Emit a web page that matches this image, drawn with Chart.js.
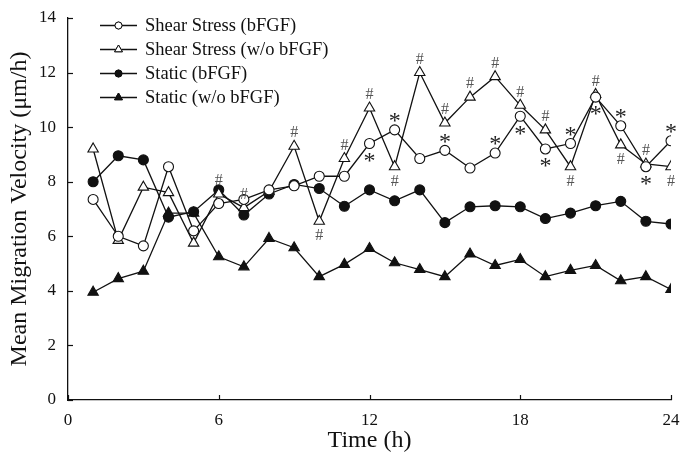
<!DOCTYPE html>
<html>
<head>
<meta charset="utf-8">
<script src="https://cdn.jsdelivr.net/npm/chart.js@4.4.1/dist/chart.umd.min.js"></script>
<style>
  html, body { margin: 0; padding: 0; background: #fff; }
  #wrap { width: 680px; height: 455px; }
</style>
</head>
<body>
<div id="wrap"><canvas id="velChart"></canvas></div>
<script>
//-- data --
const hours = [1, 2, 3, 4, 5, 6, 7, 8, 9, 10, 11, 12, 13, 14, 15, 16, 17, 18, 19, 20, 21, 22, 23, 24];
const shearBFGF = [7.35, 6.0, 5.65, 8.55, 6.2, 7.2, 7.35, 7.7, 7.85, 8.2, 8.2, 9.4, 9.9, 8.85, 9.15, 8.5, 9.05, 10.4, 9.2, 9.4, 11.1, 10.05, 8.55, 9.5];
const shearNoBFGF = [9.2, 5.85, 7.8, 7.6, 5.75, 7.55, 7.05, 7.65, 9.3, 6.55, 8.85, 10.7, 8.55, 12.0, 10.15, 11.1, 11.85, 10.8, 9.9, 8.55, 11.2, 9.35, 8.65, 8.55];
const staticBFGF = [8.0, 8.95, 8.8, 6.7, 6.9, 7.7, 6.78, 7.55, 7.9, 7.75, 7.1, 7.7, 7.3, 7.7, 6.5, 7.08, 7.12, 7.08, 6.65, 6.85, 7.12, 7.28, 6.55, 6.45];
const staticNoBFGF = [3.95, 4.45, 4.72, 6.85, 6.85, 5.25, 4.88, 5.92, 5.58, 4.52, 4.97, 5.55, 5.03, 4.78, 4.52, 5.35, 4.93, 5.15, 4.52, 4.75, 4.93, 4.37, 4.52, 4.05];
const seriesLabels = ["Shear Stress (bFGF)", "Shear Stress (w/o bFGF)", "Static (bFGF)", "Static (w/o bFGF)"];
const xTicks = [0, 6, 12, 18, 24];
const yTicks = [0, 2, 4, 6, 8, 10, 12, 14];

//-- significance marks: hour + side (1 = above, -1 = below) --
const hashHours = [6, 7, 9, 10, 11, 12, 13, 14, 15, 16, 17, 18, 19, 20, 21, 22, 23, 24];
const hashSide  = [1, 1, 1, -1, 1, 1, -1, 1, 1, 1, 1, 1, 1, -1, 1, -1, 1, -1];
const starHours = [12, 13, 15, 17, 18, 19, 20, 21, 22, 23, 24];
const starSide  = [-1, 1, 1, 1, -1, -1, 1, -1, 1, -1, 1];

const FONT = "'Liberation Serif', 'Times New Roman', serif";

function toXY(arr) {
    return arr.map((v, i) => ({ x: hours[i], y: v }));
}

function makeSet(label, values, style, fill) {
    return {
        label: label,
        data: toXY(values),
        borderColor: "#111",
        borderWidth: 1.3,
        pointStyle: style,
        pointRadius: style === "triangle" ? 6 : 5,
        pointBorderWidth: 1.1,
        pointBorderColor: "#111",
        pointBackgroundColor: fill,
        tension: 0
    };
}

//-- inward tick marks + # / * marks + line-style legend --
const extrasPlugin = {
    id: "extras",
    afterDraw(chart) {
        const ctx = chart.ctx;
        const xs = chart.scales.x, ys = chart.scales.y;
        const area = chart.chartArea;
        ctx.save();
        ctx.strokeStyle = "#111";
        ctx.lineWidth = 1.2;
        xTicks.forEach(t => {
            const px = Math.round(xs.getPixelForValue(t)) + 0.5;
            ctx.beginPath();
            ctx.moveTo(px, area.bottom);
            ctx.lineTo(px, area.bottom - 5);
            ctx.stroke();
        });
        yTicks.forEach(t => {
            const py = Math.round(ys.getPixelForValue(t)) + 0.5;
            ctx.beginPath();
            ctx.moveTo(area.left, py);
            ctx.lineTo(area.left + 5, py);
            ctx.stroke();
        });

        //-- marks --
        ctx.fillStyle = "#555";
        ctx.textAlign = "center";
        ctx.textBaseline = "middle";
        ctx.font = "16px " + FONT;
        hashHours.forEach((h, i) => {
            const v = shearNoBFGF[hours.indexOf(h)];
            const px = xs.getPixelForValue(h);
            const py = ys.getPixelForValue(v) - hashSide[i] * (hashSide[i] > 0 ? 13 : 15);
            ctx.fillText("#", px, py);
        });
        ctx.fillStyle = "#222";
        ctx.font = "24px " + FONT;
        starHours.forEach((h, i) => {
            const v = shearBFGF[hours.indexOf(h)];
            const px = xs.getPixelForValue(h);
            const py = ys.getPixelForValue(v) - starSide[i] * 13 + 5;
            ctx.fillText("*", px, py);
        });

        //-- legend --
        ctx.textAlign = "left";
        ctx.font = "18.5px " + FONT;
        ctx.fillStyle = "#111";
        chart.data.datasets.forEach((ds, i) => {
            const y = 25 + i * 24;
            ctx.beginPath();
            ctx.moveTo(100, y + 0.5);
            ctx.lineTo(137, y + 0.5);
            ctx.lineWidth = 1.3;
            ctx.stroke();
            ctx.fillStyle = ds.pointBackgroundColor;
            ctx.lineWidth = 1;
            Chart.helpers.drawPoint(ctx, {
                pointStyle: ds.pointStyle,
                radius: ds.pointStyle === "triangle" ? 4.5 : 3.5,
                rotation: 0,
                borderWidth: 1
            }, 118.5, y + 0.5);
            ctx.fill();
            ctx.stroke();
            ctx.fillStyle = "#111";
            ctx.fillText(seriesLabels[i], 145, y + 1);
        });
        ctx.restore();
    }
};

const ctx = document.getElementById("velChart").getContext("2d");
new Chart(ctx, {
    type: "line",
    data: {
        datasets: [
            makeSet(seriesLabels[0], shearBFGF, "circle", "#fff"),
            makeSet(seriesLabels[1], shearNoBFGF, "triangle", "#fff"),
            makeSet(seriesLabels[2], staticBFGF, "circle", "#111"),
            makeSet(seriesLabels[3], staticNoBFGF, "triangle", "#111")
        ]
    },
    options: {
        responsive: true,
        maintainAspectRatio: false,
        animation: false,
        layout: { padding: { top: 18, right: 9, left: 0, bottom: 0 } },
        plugins: {
            legend: { display: false },
            tooltip: { enabled: false }
        },
        scales: {
            x: {
                type: "linear",
                min: 0,
                max: 24,
                afterBuildTicks: s => { s.ticks = xTicks.map(v => ({ value: v })); },
                afterFit: s => { s.height = 55; s.paddingRight = 0; s.paddingLeft = 0; },
                ticks: { color: "#111", font: { family: FONT, size: 17 }, padding: 10, maxRotation: 0 },
                grid: { display: false, drawTicks: false },
                border: { display: true, color: "#111", width: 1.3 },
                title: {
                    display: true,
                    text: "Time (h)",
                    color: "#111",
                    font: { family: FONT, size: 24 },
                    padding: { top: 0, bottom: 0 }
                }
            },
            y: {
                min: 0,
                max: 14,
                afterBuildTicks: s => { s.ticks = yTicks.map(v => ({ value: v })); },
                afterFit: s => { s.width = 68; s.paddingTop = 0; s.paddingBottom = 0; },
                ticks: { color: "#111", font: { family: FONT, size: 17 }, padding: 12 },
                grid: { display: false, drawTicks: false },
                border: { display: true, color: "#111", width: 1.3 },
                title: {
                    display: true,
                    text: "Mean Migration Velocity (\u03bcm/h)",
                    color: "#111",
                    font: { family: FONT, size: 24 },
                    padding: { top: 5, bottom: 0 }
                }
            }
        }
    },
    plugins: [extrasPlugin]
});
</script>
</body>
</html>
